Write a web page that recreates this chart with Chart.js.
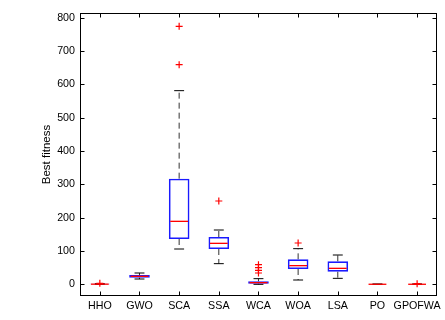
<!DOCTYPE html>
<html>
<head>
<meta charset="utf-8">
<script src="https://cdn.jsdelivr.net/npm/chart.js@4.4.1/dist/chart.umd.min.js"></script>
<style>
  html, body { margin: 0; padding: 0; background: #fff; }
</style>
</head>
<body>
<canvas id="boxChart" width="445" height="320"></canvas>
<script>
// algorithms on the x axis
const algorithms = ["HHO", "GWO", "SCA", "SSA", "WCA", "WOA", "LSA", "PO", "GPOFWA"];

// box statistics per algorithm
const lowerWhisker = [0, 16, 106, 62, 0, 13, 18, 0, 0];
const quartile1 = [0, 20, 136, 106, 2, 46, 38, 0, 0];
const medians = [0.5, 24, 189, 123, 5, 56, 48, 0.2, 0.2];
const quartile3 = [1.5, 28, 317, 142, 9, 75, 69, 0.6, 0.6];
const upperWhisker = [2, 34, 581, 163, 17, 107, 88, 1, 1];

// outliers (algorithm, value)
const outlierAlgo = ["HHO", "SCA", "SCA", "SSA", "WCA", "WCA", "WCA", "WCA", "WOA", "GPOFWA"];
const outlierValue = [3, 774, 659, 250, 59, 50, 42, 34, 124, 2];

const yTicks = [0, 100, 200, 300, 400, 500, 600, 700, 800];

const FONT = "'Liberation Sans', Arial, Helvetica, sans-serif";

// whiskers and caps under the boxes, medians above them, frame last
const boxParts = {
  id: "boxParts",
  beforeDatasetsDraw(chart) {
    const ctx = chart.ctx;
    const xs = chart.scales.x, ys = chart.scales.y;
    const step = xs.getPixelForValue(1) - xs.getPixelForValue(0);
    const capHalf = step * 0.125;
    ctx.save();
    ctx.strokeStyle = "#000";
    ctx.lineWidth = 1;
    algorithms.forEach(function (name, i) {
      const cx = xs.getPixelForValue(i);
      const yUp = ys.getPixelForValue(upperWhisker[i]);
      const yQ3 = ys.getPixelForValue(quartile3[i]);
      const yQ1 = ys.getPixelForValue(quartile1[i]);
      const yLo = ys.getPixelForValue(lowerWhisker[i]);
      ctx.strokeStyle = "#333";
      ctx.setLineDash([6, 4]);
      ctx.beginPath();
      ctx.moveTo(cx, yQ3);
      ctx.lineTo(cx, yUp);
      ctx.moveTo(cx, yQ1);
      ctx.lineTo(cx, yLo);
      ctx.stroke();
      ctx.strokeStyle = "#000";
      ctx.setLineDash([]);
      ctx.beginPath();
      ctx.moveTo(cx - capHalf, yUp);
      ctx.lineTo(cx + capHalf, yUp);
      ctx.moveTo(cx - capHalf, yLo);
      ctx.lineTo(cx + capHalf, yLo);
      ctx.stroke();
    });
    ctx.restore();
  },
  afterDatasetsDraw(chart) {
    const ctx = chart.ctx;
    const xs = chart.scales.x, ys = chart.scales.y;
    const step = xs.getPixelForValue(1) - xs.getPixelForValue(0);
    const boxHalf = step * 0.25;
    ctx.save();
    ctx.strokeStyle = "#ff0000";
    ctx.lineWidth = 1.3;
    algorithms.forEach(function (name, i) {
      const cx = xs.getPixelForValue(i);
      const ym = ys.getPixelForValue(medians[i]);
      ctx.beginPath();
      ctx.moveTo(cx - boxHalf + 1, ym);
      ctx.lineTo(cx + boxHalf - 1, ym);
      ctx.stroke();
    });
    ctx.restore();
  },
  afterDraw(chart) {
    const ctx = chart.ctx;
    const a = chart.chartArea;
    const xs = chart.scales.x, ys = chart.scales.y;
    const L = Math.round(a.left) + 0.5, R = Math.round(a.right) - 0.5;
    const T = Math.round(a.top) + 0.5, B = Math.round(a.bottom) - 0.5;
    ctx.save();
    ctx.strokeStyle = "#000";
    ctx.lineWidth = 1;
    ctx.strokeRect(L, T, R - L, B - T);
    ctx.beginPath();
    yTicks.forEach(function (v) {
      const py = Math.round(ys.getPixelForValue(v)) + 0.5;
      ctx.moveTo(L, py); ctx.lineTo(L + 4, py);
      ctx.moveTo(R, py); ctx.lineTo(R - 4, py);
    });
    algorithms.forEach(function (name, i) {
      const px = Math.round(xs.getPixelForValue(i)) + 0.5;
      ctx.moveTo(px, B); ctx.lineTo(px, B - 4);
      ctx.moveTo(px, T); ctx.lineTo(px, T + 4);
    });
    ctx.stroke();
    ctx.restore();
  }
};

const ctxBox = document.getElementById("boxChart").getContext("2d");

const boxChart = new Chart(ctxBox, {
  type: "bar",
  data: {
    labels: algorithms,
    datasets: [
      {
        label: "IQR",
        data: quartile1.map((q, i) => [q, quartile3[i]]),
        backgroundColor: "rgba(0,0,0,0)",
        borderColor: "#1a1aff",
        borderWidth: 1.6,
        borderSkipped: false,
        barPercentage: 0.52,
        categoryPercentage: 1,
        order: 2,
      },
      {
        type: "scatter",
        label: "Outliers",
        data: outlierAlgo.map((a, i) => ({ x: a, y: outlierValue[i] })),
        pointStyle: "cross",
        pointRadius: 3.5,
        pointBorderWidth: 1.2,
        borderColor: "#ff0000",
        backgroundColor: "#ff0000",
        order: 1,
      },
    ],
  },
  options: {
    responsive: false,
    animation: false,
    events: [],
    layout: { padding: { left: 0, top: 13, right: 6, bottom: 0 } },
    scales: {
      x: {
        type: "category",
        offset: true,
        grid: { display: false, drawTicks: false },
        border: { display: false },
        ticks: {
          color: "#000",
          padding: 4,
          maxRotation: 0,
          autoSkip: false,
          font: { family: FONT, size: 10.7 },
        },
        afterFit: function (scale) { scale.height = 24; },
      },
      y: {
        min: -35,
        max: 814,
        grid: { display: false, drawTicks: false },
        border: { display: false },
        ticks: {
          stepSize: 100,
          includeBounds: false,
          color: "#000",
          padding: 5,
          font: { family: FONT, size: 10.7 },
        },
        title: {
          display: true,
          text: "Best fitness",
          color: "#000",
          padding: { top: 40, bottom: 0 },
          font: { family: FONT, size: 11.5 },
        },
        afterFit: function (scale) { scale.width = 80; },
      },
    },
    plugins: {
      legend: { display: false },
      tooltip: { enabled: false },
    },
  },
  plugins: [boxParts],
});
</script>
</body>
</html>
